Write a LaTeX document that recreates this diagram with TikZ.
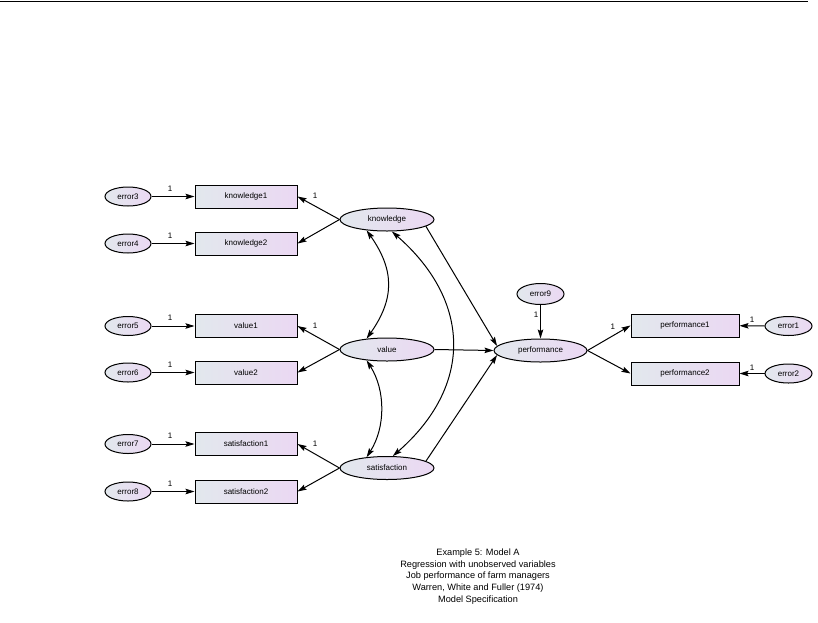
\documentclass[tikz,border=0pt]{standalone}
\usepackage{fontspec}
\setmainfont{Liberation Sans}
\usetikzlibrary{arrows.meta,shapes.geometric}
\definecolor{shL}{RGB}{226,232,237}
\definecolor{shR}{RGB}{235,216,243}
\tikzset{
  base/.style={draw=black, line width=1pt, left color=shL, right color=shR, inner sep=0pt, font=\fontsize{8}{9.5}\selectfont},
  obsbox/.style={base, rectangle, minimum width=102pt, minimum height=23pt},
  obswide/.style={obsbox, minimum width=108pt},
  errell/.style={base, ellipse, minimum width=46pt, minimum height=19pt},
  latell/.style={base, ellipse, minimum width=94pt, minimum height=23pt},
  path/.style={line width=1pt, -{Stealth[length=9pt,width=5.5pt,inset=1.5pt]}},
  cov/.style={line width=1pt, {Stealth[length=9pt,width=5.5pt,inset=1.5pt]}-{Stealth[length=9pt,width=5.5pt,inset=1.5pt]}},
  lab/.style={font=\fontsize{8}{9.5}\selectfont, inner sep=0pt}
}
\begin{document}
\begin{tikzpicture}[x=1pt,y=-1pt]
\useasboundingbox (0,0) rectangle (818,622);
\coordinate (tl) at (0,1.5);
\coordinate (tr) at (808,1.5);
\draw[line width=1.2pt] (tl) -- (tr);

% observed boxes
\node[obsbox] (k1) at (246,196.5) {knowledge1};
\node[obsbox] (k2) at (246,243.5) {knowledge2};
\node[obsbox] (v1) at (246,326) {value1};
\node[obsbox] (v2) at (246,372.5) {value2};
\node[obsbox] (s1) at (246,444) {satisfaction1};
\node[obsbox] (s2) at (246,491.5) {satisfaction2};
\node[obswide] (p1) at (685,325.5) {performance1};
\node[obswide] (p2) at (685,373.5) {performance2};

% error ellipses
\node[errell] (e3) at (128,196.5) {error3};
\node[errell] (e4) at (128,243.5) {error4};
\node[errell] (e5) at (128,326) {error5};
\node[errell] (e6) at (128,372.5) {error6};
\node[errell] (e7) at (128,444) {error7};
\node[errell] (e8) at (128,491.5) {error8};
\node[errell, minimum height=21pt, minimum width=47pt] (e9) at (540.5,294) {error9};
\node[errell, minimum width=47pt] (e1) at (788.5,326) {error1};
\node[errell, minimum width=47pt] (e2) at (788.5,373.5) {error2};

% latent ellipses
\node[latell] (kn) at (387,219.5) {knowledge};
\node[latell] (va) at (387,349.5) {value};
\node[latell] (sa) at (387,468) {satisfaction};
\node[latell, minimum width=93pt] (pe) at (540.5,350.5) {performance};

% error paths
\foreach \e/\b in {e3/k1,e5/v1,e7/s1}
  \draw[path] (\e) -- node[lab, pos=0.43, yshift=8pt] {1} (\b);
\foreach \e/\b in {e4/k2,e6/v2,e8/s2}
  \draw[path] (\e) -- node[lab, pos=0.43, yshift=7.5pt] {1} (\b);
\draw[path] (e1) -- node[lab, pos=0.5, yshift=6pt] {1} (p1);
\draw[path] (e2) -- node[lab, pos=0.5, yshift=6pt] {1} (p2);
\draw[path] (e9) -- node[lab, pos=0.3, xshift=-4.5pt] {1} (pe);

% loadings
\draw[path] (kn.west) -- node[lab, pos=0.58, yshift=10pt] {1} (k1.east);
\draw[path] (kn.west) -- (k2.east);
\draw[path] (va.west) -- node[lab, pos=0.58, yshift=10pt] {1} (v1.east);
\draw[path] (va.west) -- (v2.east);
\draw[path] (sa.west) -- node[lab, pos=0.58, yshift=10pt] {1} (s1.east);
\draw[path] (sa.west) -- (s2.east);
\draw[path] (pe.east) -- node[lab, pos=0.59, yshift=9.5pt] {1} (p1.west);
\draw[path] (pe.east) -- (p2.west);

% structural paths
\draw[path] (kn.-10) -- (pe.174);
\draw[path] (va.east) -- (pe.west);
\draw[path] (sa.10) -- (pe.186);

% covariances
\draw[cov] (kn.208) .. controls +(28,40) and +(28,-40) .. (va.152);
\draw[cov] (va.208) .. controls +(19,30) and +(19,-30) .. (sa.152);
\draw[cov] (kn.292) .. controls +(80,70) and +(80,-70) .. (sa.64);

% caption
\node[align=center, font=\fontsize{9.2}{11.7}\selectfont, inner sep=0pt] (cap) at (478,576.5)
 {Example 5: Model A\\Regression with unobserved variables\\Job performance of farm managers\\Warren, White and Fuller (1974)\\Model Specification};
\end{tikzpicture}
\end{document}
